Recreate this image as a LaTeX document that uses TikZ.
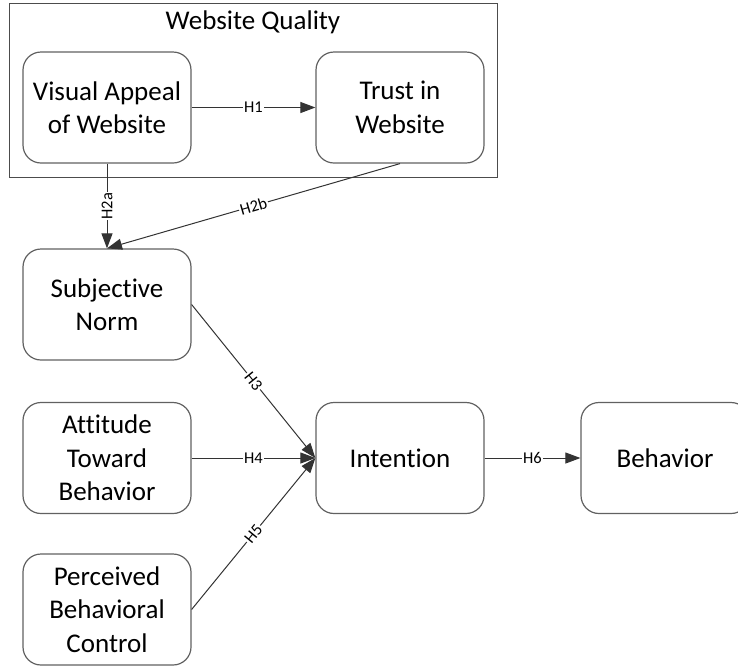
\documentclass[tikz,border=0pt]{standalone}
\usepackage{fontspec}
\setmainfont[Ligatures=NoCommon]{Carlito}
\usetikzlibrary{arrows.meta}
\begin{document}
\begin{tikzpicture}[x=1pt,y=-1pt,
  construct/.style={draw=black!62, line width=1.2pt, rounded corners=18pt,
    minimum width=168pt, minimum height=111pt, align=center, inner sep=0pt,
    font=\fontsize{27}{33.5}\selectfont},
  link/.style={draw=black!80, line width=1pt,
    -{Triangle[length=15pt,width=11pt]}},
  hyp/.style={fill=white, inner sep=1.2pt, font=\fontsize{16.5}{16.5}\selectfont}]
\useasboundingbox (0,0) rectangle (738,665);
\clip (0,0) rectangle (738,665);
% group frame
\node[draw=black!70, line width=1pt, minimum width=488pt, minimum height=174pt,
  inner sep=0pt] (wq) at (253,90) {};
\node[font=\fontsize{27}{33.5}\selectfont] (wqt) at (253,22) {Website Quality};
% constructs
\node[construct] (va) at (107,107.5) {Visual Appeal\\of Website};
\node[construct] (tw) at (400,107.5) {Trust in\\Website};
\node[construct] (sn) at (107,304.5) {Subjective\\Norm};
\node[construct] (at) at (107,458) {Attitude\\Toward\\Behavior};
\node[construct] (pb) at (107,609.5) {Perceived\\Behavioral\\Control};
\node[construct] (in) at (400,458) {Intention};
\node[construct] (be) at (665,458) {Behavior};
% hypotheses
\draw[link] (va.east) -- node[hyp] {H1} (tw.west);
\draw[link] (va.south) -- node[hyp, rotate=90] {H2a} (sn.north);
\draw[link] (tw.south) -- node[hyp, sloped] {H2b} (sn.north);
\draw[link] (sn.east) -- node[hyp, sloped] {H3} (in.west);
\draw[link] (at.east) -- node[hyp] {H4} (in.west);
\draw[link] (pb.east) -- node[hyp, sloped] {H5} (in.west);
\draw[link] (in.east) -- node[hyp] {H6} (be.west);
\end{tikzpicture}
\end{document}
